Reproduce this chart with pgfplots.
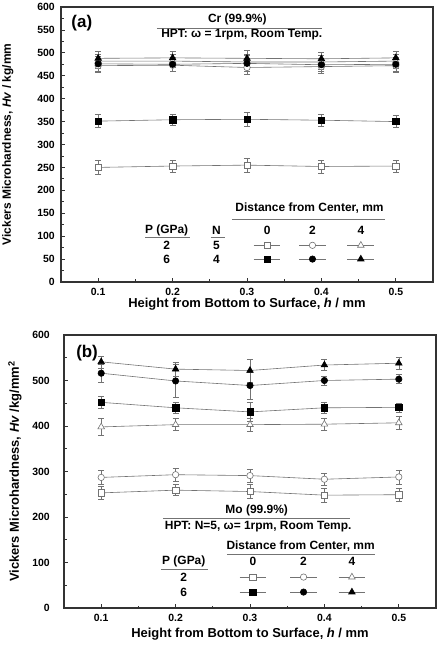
\documentclass[border=0pt]{standalone}
\usepackage{pgfplots}
\pgfplotsset{compat=1.18}
\usepackage{fontspec}
\setmainfont{Liberation Sans}

\definecolor{ln}{gray}{0.45}
\definecolor{ax}{gray}{0.2}

\tikzset{
  txt/.style={font=\fontsize{12}{14}\selectfont\bfseries, inner sep=0pt, anchor=center},
  ttl/.style={font=\fontsize{12}{14}\selectfont\bfseries, inner sep=0pt, anchor=center},
  pan/.style={font=\fontsize{17}{19}\selectfont\bfseries, inner sep=0pt, anchor=center},
  rl/.style={ln, line width=0.7pt},
}

\pgfplotsset{
  hv/.style={
    scale only axis, width=372bp,
    xmin=0.05, xmax=0.55, ymin=0, ymax=600,
    xtick={0.1,0.2,0.3,0.4,0.5}, minor x tick num=1,
    tick align=inside, xtick pos=bottom, ytick pos=left,
    axis line style={ax, line width=1.1pt},
    major tick length=4bp, minor tick length=2.5bp,
    every tick/.style={ax, line width=0.8pt},
    tick label style={font=\fontsize{10.5}{12}\selectfont\bfseries, inner sep=0pt},
    /pgf/number format/assume math mode=true,
    x tick label style={/pgf/number format/fixed, /pgf/number format/precision=1,
      /pgf/number format/fixed zerofill, /tikz/yshift=-6bp},
    xlabel={Height from Bottom to Surface, \textbf{\textit{h}} / mm},
    label style={font=\fontsize{13}{15}\selectfont\bfseries},
    clip=false,
  },
  eb/.style={error bars/.cd, y dir=both, y explicit,
    error bar style={ln, line width=0.5pt},
    error mark options={rotate=90, mark size=3bp, ln, line width=0.5pt}},
  op/.style={ln, line width=0.6pt, mark size=3.2bp,
    mark options={fill=white, draw=ln, solid, line width=0.6pt}},
  fl/.style={ln, line width=0.6pt, mark size=3.2bp,
    mark options={fill=black, draw=black, solid}},
  sq/.style={mark=square*}, ci/.style={mark=*}, tr/.style={mark=triangle*, mark size=3.8bp},
}

\begin{document}
\begin{tikzpicture}

% ---------------- (a) Cr ----------------
\begin{axis}[hv, at={(61bp,364bp)}, anchor=south west, height=275bp,
  ytick={0,50,...,600}, minor y tick num=1,
  y tick label style={/tikz/xshift=-6bp},
  xlabel style={at={(axis description cs:0.5,0)}, anchor=center, yshift=-22bp},
  ylabel={Vickers Microhardness, \textbf{\textit{Hv}} / kg/mm},
  ylabel style={at={(axis description cs:-0.143,0.5)}, anchor=center, font=\fontsize{12}{14}\selectfont\bfseries},
]
% 2 GPa, N=5
\addplot[op, sq, eb] coordinates {(0.1,250)+-(0,15) (0.2,253)+-(0,13) (0.3,255)+-(0,15) (0.4,252)+-(0,14) (0.5,253)+-(0,13)};
\addplot[op, ci, eb] coordinates {(0.1,472)+-(0,15) (0.2,473)+-(0,14) (0.3,468)+-(0,15) (0.4,470)+-(0,14) (0.5,472)+-(0,14)};
\addplot[op, tr, eb] coordinates {(0.1,482)+-(0,15) (0.2,482)+-(0,14) (0.3,480)+-(0,16) (0.4,480)+-(0,15) (0.5,482)+-(0,15)};
% 6 GPa, N=4
\addplot[fl, sq, eb] coordinates {(0.1,351)+-(0,14) (0.2,354)+-(0,13) (0.3,355)+-(0,15) (0.4,353)+-(0,14) (0.5,350)+-(0,13)};
\addplot[fl, ci, eb] coordinates {(0.1,476)+-(0,16) (0.2,475)+-(0,15) (0.3,477)+-(0,17) (0.4,474)+-(0,15) (0.5,475)+-(0,15)};
\addplot[fl, tr, eb] coordinates {(0.1,488)+-(0,16) (0.2,489)+-(0,15) (0.3,488)+-(0,17) (0.4,487)+-(0,15) (0.5,489)+-(0,15)};

\node[pan] at (axis cs:0.078,565) {(a)};
\node[ttl] at (axis cs:0.287,572) {Cr (99.9\%)};
\draw[rl] (axis cs:0.179,554) -- (axis cs:0.401,554);
\node[ttl] at (axis cs:0.293,539) {HPT: ω = 1rpm, Room Temp.};

% key
\node[txt] at (axis cs:0.384,161) {Distance from Center, mm};
\draw[rl] (axis cs:0.28,137) -- (axis cs:0.485,137);
\node[txt] at (axis cs:0.192,113) {P (GPa)};
\draw[rl] (axis cs:0.163,98) -- (axis cs:0.224,98);
\node[txt] at (axis cs:0.259,113) {N};
\draw[rl] (axis cs:0.251,98) -- (axis cs:0.270,98);
\node[txt] at (axis cs:0.327,113) {0};
\node[txt] at (axis cs:0.388,113) {2};
\node[txt] at (axis cs:0.453,113) {4};
\node[txt] at (axis cs:0.192,80) {2};
\node[txt] at (axis cs:0.259,80) {5};
\node[txt] at (axis cs:0.192,50) {6};
\node[txt] at (axis cs:0.259,50) {4};
\addplot[op, sq, mark indices={2}] coordinates {(0.309,80) (0.327,80) (0.345,80)};
\addplot[op, ci, mark indices={2}] coordinates {(0.370,80) (0.388,80) (0.406,80)};
\addplot[op, tr, mark indices={2}] coordinates {(0.435,80) (0.453,80) (0.471,80)};
\addplot[fl, sq, mark indices={2}] coordinates {(0.309,50) (0.327,50) (0.345,50)};
\addplot[fl, ci, mark indices={2}] coordinates {(0.370,50) (0.388,50) (0.406,50)};
\addplot[fl, tr, mark indices={2}] coordinates {(0.435,50) (0.453,50) (0.471,50)};
\end{axis}

% ---------------- (b) Mo ----------------
\begin{axis}[hv, at={(64bp,38bp)}, anchor=south west, height=273bp,
  ytick={0,100,...,600}, minor y tick num=1,
  y tick label style={/tikz/xshift=-14bp},
  xlabel style={at={(axis description cs:0.5,0)}, anchor=center, yshift=-26bp},
  ylabel={Vickers Microhardness, \textbf{\textit{Hv}} /kg/mm\textsuperscript{2}},
  ylabel style={at={(axis description cs:-0.132,0.5)}, anchor=center, font=\fontsize{13}{15}\selectfont\bfseries},
]
% 2 GPa
\addplot[op, sq, eb] coordinates {(0.1,253)+-(0,15) (0.2,259)+-(0,12) (0.3,256)+-(0,15) (0.4,248)+-(0,15) (0.5,249)+-(0,15)};
\addplot[op, ci, eb] coordinates {(0.1,287)+-(0,15) (0.2,293)+-(0,15) (0.3,291)+-(0,14) (0.4,283)+-(0,14) (0.5,288)+-(0,15)};
\addplot[op, tr, eb] coordinates {(0.1,398)+-(0,18) (0.2,403)+-(0,13) (0.3,403)+-(0,15) (0.4,404)+-(0,14) (0.5,407)+-(0,14)};
% 6 GPa
\addplot[fl, sq, eb] coordinates {(0.1,452)+-(0,14) (0.2,440)+-(0,12) (0.3,431)+-(0,21) (0.4,440)+-(0,12) (0.5,441)+-(0,10)};
\addplot[fl, ci, eb] coordinates {(0.1,516)+-(0,20) (0.2,499)+-(0,36) (0.3,489)+-(0,30) (0.4,500)+-(0,10) (0.5,503)+-(0,10)};
\addplot[fl, tr, eb] coordinates {(0.1,541)+-(0,13) (0.2,525)+-(0,15) (0.3,522)+-(0,25) (0.4,534)+-(0,12) (0.5,538)+-(0,14)};

\node[pan] at (axis cs:0.081,560) {(b)};
\node[ttl] at (axis cs:0.309,214) {Mo (99.9\%)};
\draw[rl] (axis cs:0.183,196) -- (axis cs:0.434,196);
\node[ttl] at (axis cs:0.311,179) {HPT: N=5, ω= 1rpm, Room Temp.};

% key
\node[txt] at (axis cs:0.368,136) {Distance from Center, mm};
\draw[rl] (axis cs:0.269,119) -- (axis cs:0.468,119);
\node[txt] at (axis cs:0.211,102) {P (GPa)};
\draw[rl] (axis cs:0.181,86) -- (axis cs:0.244,86);
\node[txt] at (axis cs:0.304,102) {0};
\node[txt] at (axis cs:0.372,102) {2};
\node[txt] at (axis cs:0.437,102) {4};
\node[txt] at (axis cs:0.211,68) {2};
\node[txt] at (axis cs:0.211,35) {6};
\addplot[op, sq, mark indices={2}] coordinates {(0.286,68) (0.304,68) (0.322,68)};
\addplot[op, ci, mark indices={2}] coordinates {(0.354,68) (0.372,68) (0.390,68)};
\addplot[op, tr, mark indices={2}] coordinates {(0.419,68) (0.437,68) (0.455,68)};
\addplot[fl, sq, mark indices={2}] coordinates {(0.286,35) (0.304,35) (0.322,35)};
\addplot[fl, ci, mark indices={2}] coordinates {(0.354,35) (0.372,35) (0.390,35)};
\addplot[fl, tr, mark indices={2}] coordinates {(0.419,35) (0.437,35) (0.455,35)};
\end{axis}

\pgfresetboundingbox
\path (0bp,0bp) rectangle (439bp,646bp);
\end{tikzpicture}
\end{document}
